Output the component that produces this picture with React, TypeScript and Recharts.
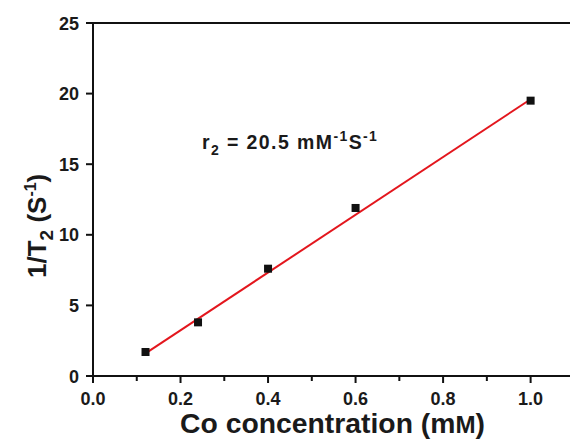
import React from "react";
import {
  ComposedChart,
  Scatter,
  Line,
  XAxis,
  YAxis,
  ReferenceLine,
} from "recharts";

// measured points
const concentrations = [0.12, 0.24, 0.4, 0.6, 1.0];
const relaxRates = [1.7, 3.8, 7.6, 11.9, 19.5];

// linear fit ends, slope ~20.5
const fitX = [0.12, 1.0];
const fitY = [1.6, 19.6];

const xTicks = [0, 0.1, 0.2, 0.3, 0.4, 0.5, 0.6, 0.7, 0.8, 0.9, 1.0];
const yTicks = [0, 5, 10, 15, 20, 25];

const points = concentrations.map((x, i) => ({ x, y: relaxRates[i] }));
const fit = fitX.map((x, i) => ({ x, y: fitY[i] }));

const FONT = "'Liberation Sans', Arial, sans-serif";
const INK = "#1a1a1a";

const Square = (props: any) => {
  const { cx, cy } = props;
  return <rect x={cx - 4} y={cy - 4} width={8} height={8} fill="#111" />;
};

const XTick = (props: any) => {
  const { x, y, payload } = props;
  const v = payload.value as number;
  const major = Math.round(v * 10) % 2 === 0;
  return (
    <g>
      <line x1={x} x2={x} y1={y} y2={y + (major ? 7 : 5)} stroke="#111" strokeWidth={2} />
      {major && (
        <text
          x={x}
          y={y + 29}
          textAnchor="middle"
          fontFamily={FONT}
          fontWeight="bold"
          fontSize={18}
          fill={INK}
        >
          {v.toFixed(1)}
        </text>
      )}
    </g>
  );
};

const YTick = (props: any) => {
  const { x, y, payload } = props;
  return (
    <g>
      <line x1={x} x2={x - 7} y1={y} y2={y} stroke="#111" strokeWidth={2} />
      <text
        x={x - 14}
        y={y + 6.5}
        textAnchor="end"
        fontFamily={FONT}
        fontWeight="bold"
        fontSize={18}
        fill={INK}
      >
        {payload.value}
      </text>
    </g>
  );
};

export default function App() {
  return (
    <div
      style={{
        position: "absolute",
        left: 0,
        top: 0,
        width: 570,
        height: 439,
        background: "#fff",
        overflow: "hidden",
        fontFamily: FONT,
      }}
    >
      <ComposedChart
        width={570}
        height={439}
        margin={{ top: 23, right: 0, bottom: 0, left: 0 }}
      >
        <XAxis
          type="number"
          dataKey="x"
          domain={[0, 1.09]}
          ticks={xTicks}
          allowDataOverflow
          tickSize={0}
          tickMargin={0}
          tickLine={false}
          tick={<XTick />}
          axisLine={{ stroke: "#111", strokeWidth: 2 }}
          height={63}
        />
        <YAxis
          type="number"
          dataKey="y"
          domain={[0, 25]}
          ticks={yTicks}
          tickSize={0}
          tickMargin={0}
          tickLine={false}
          tick={<YTick />}
          axisLine={{ stroke: "#111", strokeWidth: 2 }}
          width={93}
        />
        <ReferenceLine y={25} stroke="#111" strokeWidth={2} />
        <Line
          data={fit}
          dataKey="y"
          type="linear"
          stroke="#e3161d"
          strokeWidth={2}
          dot={false}
          isAnimationActive={false}
        />
        <Scatter
          data={points}
          dataKey="y"
          shape={<Square />}
          isAnimationActive={false}
        />
      </ComposedChart>
      <svg
        width={570}
        height={439}
        style={{ position: "absolute", left: 0, top: 0, pointerEvents: "none" }}
        fontFamily={FONT}
        fontWeight="bold"
        fill={INK}
      >
        {/* x axis title */}
        <text x={180} y={433} fontSize={27} textLength={305} lengthAdjust="spacingAndGlyphs">
          Co concentration (m<tspan fontSize={23}>M</tspan>)
        </text>
        {/* y axis title */}
        <text transform="translate(46,278) rotate(-90)" fontSize={26}>
          1/T
          <tspan dy={7} fontSize={19}>2</tspan>
          <tspan dy={-7}> (S</tspan>
          <tspan dy={-10} fontSize={16}>-1</tspan>
          <tspan dy={10}>)</tspan>
        </text>
        {/* slope annotation */}
        <text x={202} y={149} fontSize={19.5} letterSpacing={1.4}>
          r<tspan dy={6} fontSize={14}>2</tspan>
          <tspan dy={-6}>{" = 20.5 mM"}</tspan>
          <tspan dy={-8} fontSize={14}>-1</tspan>
          <tspan dy={8}>S</tspan>
          <tspan dy={-8} fontSize={14}>-1</tspan>
        </text>
      </svg>
    </div>
  );
}
